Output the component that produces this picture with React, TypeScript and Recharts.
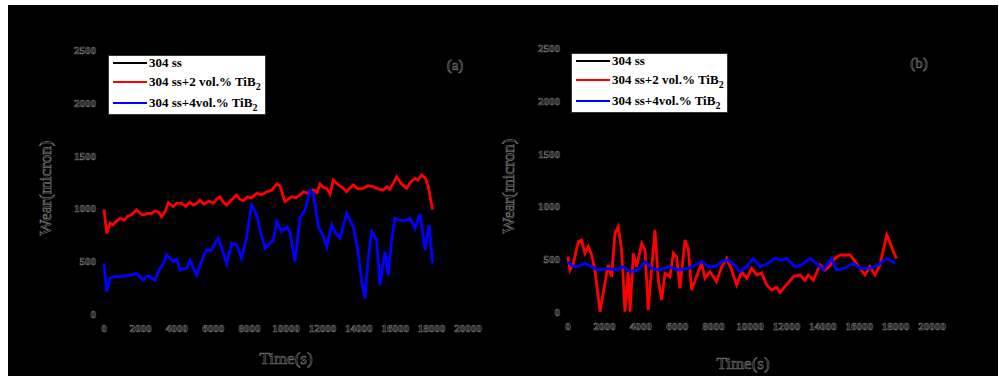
import { LineChart, Line, XAxis, YAxis, Label } from "recharts";

// wear vs time, two panels
const timeTicks = [0, 2000, 4000, 6000, 8000, 10000, 12000, 14000, 16000, 18000, 20000];
const wearTicks = [0, 500, 1000, 1500, 2000, 2500];

// panel (a)
const aRedTime = [0, 150, 330, 500, 700, 880, 1100, 1300, 1500, 1800, 2000, 2160, 2400, 2600, 2800, 2980, 3170, 3350, 3540, 3810, 4000, 4270, 4500, 4700, 4910, 5100, 5270, 5500, 5750, 6010, 6200, 6370, 6550, 6740, 7000, 7290, 7450, 7650, 7900, 8100, 8390, 8650, 8940, 9200, 9490, 9670, 9945, 10150, 10310, 10550, 10770, 10950, 11230, 11500, 11700, 11870, 12050, 12240, 12420, 12600, 12880, 13100, 13330, 13500, 13700, 13950, 14250, 14500, 14790, 15050, 15350, 15550, 15710, 15900, 16080, 16350, 16630, 16850, 17090, 17250, 17450, 17650, 17820, 18050];
const aRedWear = [990, 764, 859, 845, 880, 906, 890, 925, 940, 985, 950, 937, 955, 950, 975, 969, 921, 965, 1054, 1016, 1050, 1048, 1020, 1060, 1032, 1050, 1080, 1040, 1070, 1048, 1090, 1111, 1060, 1032, 1080, 1127, 1090, 1073, 1110, 1100, 1143, 1130, 1158, 1170, 1231, 1215, 1063, 1090, 1111, 1100, 1127, 1158, 1143, 1174, 1150, 1231, 1200, 1190, 1136, 1269, 1222, 1200, 1158, 1190, 1222, 1185, 1190, 1215, 1206, 1185, 1174, 1205, 1180, 1240, 1300, 1230, 1190, 1250, 1285, 1270, 1316, 1290, 1206, 990];

const aBlueTime = [0, 150, 330, 600, 880, 1200, 1500, 1800, 2000, 2160, 2350, 2530, 2800, 3080, 3250, 3440, 3620, 3810, 4000, 4180, 4360, 4540, 4730, 4900, 5090, 5350, 5640, 5850, 6010, 6150, 6280, 6470, 6740, 7010, 7290, 7560, 7840, 8110, 8390, 8600, 8850, 9120, 9300, 9490, 9760, 10040, 10220, 10490, 10770, 11040, 11320, 11500, 11780, 12000, 12240, 12510, 12750, 12970, 13330, 13700, 13950, 14160, 14340, 14500, 14710, 14980, 15160, 15440, 15620, 15800, 15990, 16260, 16550, 16810, 17090, 17360, 17640, 17870, 18050];
const aBlueWear = [480, 211, 338, 355, 353, 360, 370, 385, 345, 322, 360, 353, 322, 433, 470, 559, 530, 496, 520, 417, 430, 433, 511, 440, 369, 500, 606, 600, 637, 690, 717, 620, 473, 669, 654, 527, 732, 1032, 937, 780, 622, 669, 700, 874, 779, 827, 779, 496, 906, 985, 1174, 1143, 827, 760, 637, 843, 760, 717, 954, 827, 600, 306, 149, 500, 779, 701, 275, 590, 369, 700, 906, 890, 880, 906, 811, 947, 606, 843, 480];

// panel (b)
const bRedTime = [0, 110, 290, 570, 750, 930, 1120, 1300, 1480, 1760, 2030, 2210, 2400, 2580, 2760, 2950, 3130, 3310, 3410, 3590, 3770, 4050, 4230, 4410, 4600, 4780, 4960, 5150, 5330, 5600, 5790, 5970, 6150, 6430, 6610, 6790, 7060, 7340, 7530, 7800, 8160, 8430, 8720, 8990, 9270, 9540, 9820, 10090, 10370, 10640, 10920, 11190, 11470, 11650, 11920, 12380, 12750, 13020, 13200, 13480, 13850, 14120, 14400, 14670, 14950, 15500, 15770, 16040, 16320, 16590, 16870, 17140, 17510, 17690, 17880, 18050];
const bRedWear = [524, 398, 460, 666, 681, 556, 619, 540, 398, 3, 272, 445, 334, 745, 808, 587, 3, 380, 3, 556, 430, 650, 587, 19, 420, 776, 303, 114, 366, 334, 556, 520, 224, 682, 600, 208, 334, 461, 320, 382, 287, 420, 508, 400, 256, 382, 319, 414, 351, 370, 256, 208, 234, 183, 240, 334, 351, 300, 350, 303, 445, 398, 440, 508, 540, 540, 480, 414, 351, 430, 351, 445, 729, 660, 571, 508];

const bBlueTime = [0, 290, 560, 930, 1300, 1670, 2210, 2670, 3030, 3400, 3860, 4230, 4600, 5050, 5510, 6060, 6610, 6980, 7340, 7710, 8080, 8430, 8790, 9160, 9440, 9810, 10170, 10550, 11000, 11370, 11730, 12010, 12460, 12830, 13290, 13740, 14020, 14470, 14750, 15210, 15670, 16040, 16590, 17050, 17510, 17690, 17970];
const bBlueWear = [476, 429, 429, 461, 429, 398, 410, 398, 429, 382, 398, 476, 414, 398, 429, 398, 414, 445, 476, 429, 429, 476, 492, 445, 382, 429, 508, 429, 461, 508, 492, 508, 429, 445, 508, 445, 398, 508, 398, 414, 461, 414, 414, 445, 508, 492, 461];

const legendRows = [
  { color: "#000000", label: "304 ss", sub: "" },
  { color: "#ff0000", label: "304 ss+2 vol.% TiB", sub: "2" },
  { color: "#0000ff", label: "304 ss+4vol.% TiB", sub: "2" },
];

const toPoints = (t: number[], w: number[]) => t.map((time, i) => ({ time, wear: w[i] }));

const serif = "'Liberation Serif', 'Times New Roman', serif";
const outline = { fill: "#000", stroke: "#6a6a6a", strokeWidth: 0.7 };
const tickStyle = { ...outline, fontSize: 11, fontFamily: serif, fontWeight: "bold" };

type PanelProps = {
  left: number;
  width: number;
  margin: { top: number; right: number; left: number; bottom: number };
  red: { time: number; wear: number }[];
  blue: { time: number; wear: number }[];
  tag: string;
  yTitleX: number;
  xTitleY: number;
  xTitleDx: number;
};

function Panel({ left, width, margin, red, blue, tag, yTitleX, xTitleY, xTitleDx }: PanelProps) {
  return (
    <div style={{ position: "absolute", left, top: 0, fontFamily: serif }}>
      <LineChart width={width} height={376} margin={margin} style={{ fontFamily: serif }}>
        <XAxis
          dataKey="time"
          type="number"
          domain={[0, 20000]}
          ticks={timeTicks}
          interval={0}
          axisLine={false}
          tickLine={false}
          tickMargin={4}
          height={30}
          fontFamily={serif}
          tick={tickStyle}
        >
          <Label
            content={({ viewBox }: any) => (
              <text
                x={viewBox.x + viewBox.width / 2 + xTitleDx}
                y={xTitleY}
                textAnchor="middle"
                dominantBaseline="central"
                fontSize={17}
                fontFamily={serif}
                {...outline}
              >
                Time(s)
              </text>
            )}
          />
        </XAxis>
        <YAxis
          type="number"
          domain={[0, 2500]}
          ticks={wearTicks}
          interval={0}
          axisLine={false}
          tickLine={false}
          width={60}
          fontFamily={serif}
          tick={tickStyle}
        >
          <Label
            content={({ viewBox }: any) => {
              const cy = viewBox.y + viewBox.height / 2 + 6;
              return (
                <text
                  x={yTitleX}
                  y={cy}
                  transform={`rotate(-90 ${yTitleX} ${cy})`}
                  textAnchor="middle"
                  dominantBaseline="central"
                  fontSize={17}
                  fontFamily={serif}
                  {...outline}
                >
                  Wear(micron)
                </text>
              );
            }}
          />
        </YAxis>
        <Line data={red} dataKey="wear" stroke="#ff0000" strokeWidth={2.8} dot={false} isAnimationActive={false} />
        <Line data={blue} dataKey="wear" stroke="#0000ff" strokeWidth={2.8} dot={false} isAnimationActive={false} />
        <text x={width - margin.right - 13} y={margin.top + 15} textAnchor="middle" dominantBaseline="central" fontSize={15} fontFamily={serif} {...outline}>
          {tag}
        </text>
      </LineChart>
    </div>
  );
}

function LegendBox({ left, top, width }: { left: number; top: number; width: number }) {
  const rowCenters = [7, 26, 47];
  return (
    <div
      style={{
        position: "absolute",
        left,
        top,
        width,
        height: 60,
        background: "#fff",
        border: "1px solid #333",
        boxSizing: "border-box",
        fontFamily: serif,
        fontWeight: "bold",
        fontSize: 13,
        color: "#000",
      }}
    >
      {legendRows.map((r, i) => (
        <div
          key={r.label}
          style={{ position: "absolute", left: 4, top: rowCenters[i] - 9, height: 18, display: "flex", alignItems: "center" }}
        >
          <span style={{ display: "inline-block", width: 34, height: 2, background: r.color, marginRight: 2 }} />
          <span style={{ whiteSpace: "nowrap", lineHeight: "18px" }}>
            {r.label}
            {r.sub && <sub style={{ fontSize: 10, lineHeight: 0 }}>{r.sub}</sub>}
          </span>
        </div>
      ))}
    </div>
  );
}

export default function App() {
  return (
    <div style={{ position: "absolute", left: 0, top: 0, width: 999, height: 376, background: "#fff", overflow: "hidden" }}>
      <div style={{ position: "absolute", left: 8, top: 5, width: 990, height: 371, background: "#000" }} />
      <Panel
        left={0}
        width={500}
        margin={{ top: 50, right: 32, left: 44, bottom: 32 }}
        red={toPoints(aRedTime, aRedWear)}
        blue={toPoints(aBlueTime, aBlueWear)}
        tag="(a)"
        yTitleX={45}
        xTitleY={358}
        xTitleDx={0}
      />
      <Panel
        left={500}
        width={499}
        margin={{ top: 48, right: 67, left: 8, bottom: 34 }}
        red={toPoints(bRedTime, bRedWear)}
        blue={toPoints(bBlueTime, bBlueWear)}
        tag="(b)"
        yTitleX={8}
        xTitleY={363}
        xTitleDx={-7}
      />
      <LegendBox left={108} top={55} width={158} />
      <LegendBox left={571} top={53} width={157} />
    </div>
  );
}
